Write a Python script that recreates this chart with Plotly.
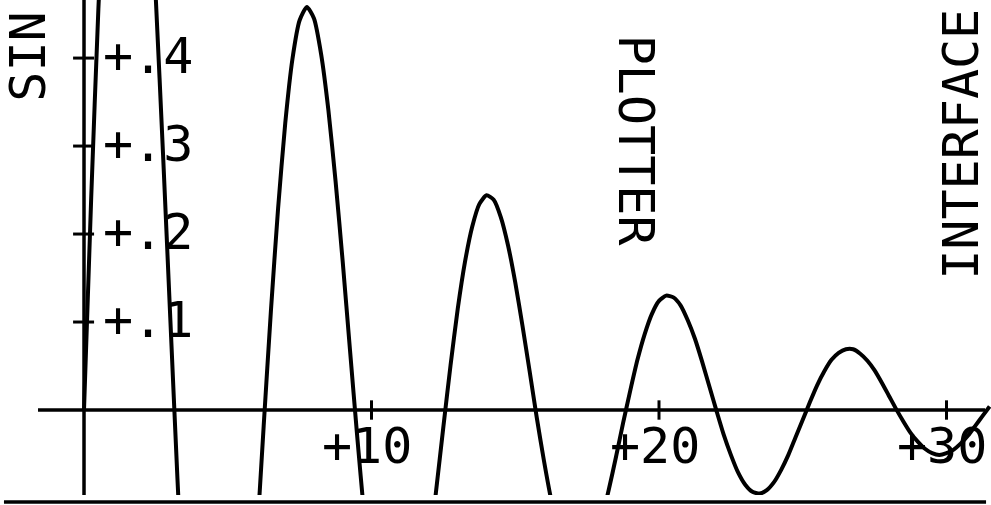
import plotly.graph_objects as go

# ---- data (damped sine) ----
x_vals = [0.0, 0.25, 0.5, 0.75, 1.0, 1.25, 1.5, 1.75, 2.0, 2.25,
          2.5, 2.75, 3.0, 3.25, 3.5, 3.75, 4.0, 4.25, 4.5, 4.75,
          5.0, 5.25, 5.5, 5.75, 6.0, 6.25, 6.5, 6.75, 7.0, 7.25,
          7.5, 7.75, 8.0, 8.25, 8.5, 8.75, 9.0, 9.25, 9.5, 9.75,
          10.0, 10.25, 10.5, 10.75, 11.0, 11.25, 11.5, 11.75, 12.0, 12.25,
          12.5, 12.75, 13.0, 13.25, 13.5, 13.75, 14.0, 14.25, 14.5, 14.75,
          15.0, 15.25, 15.5, 15.75, 16.0, 16.25, 16.5, 16.75, 17.0, 17.25,
          17.5, 17.75, 18.0, 18.25, 18.5, 18.75, 19.0, 19.25, 19.5, 19.75,
          20.0, 20.25, 20.5, 20.75, 21.0, 21.25, 21.5, 21.75, 22.0, 22.25,
          22.5, 22.75, 23.0, 23.25, 23.5, 23.75, 24.0, 24.25, 24.5, 24.75,
          25.0, 25.25, 25.5, 25.75, 26.0, 26.25, 26.5, 26.75, 27.0, 27.25,
          27.5, 27.75, 28.0, 28.25, 28.5, 28.75, 29.0, 29.25, 29.5, 29.75,
          30.0, 30.25, 30.5, 30.75, 31.0, 31.25, 31.5]
sin_vals = [0.0, 0.241, 0.456, 0.632, 0.761, 0.837, 0.859, 0.826, 0.744, 0.621,
            0.466, 0.290, 0.105, -0.078, -0.247, -0.393, -0.507, -0.585, -0.623, -0.621,
            -0.582, -0.508, -0.407, -0.286, -0.153, -0.018, 0.112, 0.229, 0.326, 0.399,
            0.443, 0.458, 0.445, 0.404, 0.341, 0.260, 0.168, 0.069, -0.029, -0.121,
            -0.200, -0.264, -0.308, -0.331, -0.333, -0.314, -0.277, -0.225, -0.162, -0.091,
            -0.019, 0.051, 0.115, 0.168, 0.208, 0.234, 0.244, 0.239, 0.219, 0.187,
            0.145, 0.096, 0.044, -0.009, -0.058, -0.102, -0.137, -0.162, -0.176, -0.178,
            -0.170, -0.151, -0.124, -0.091, -0.054, -0.015, 0.022, 0.057, 0.086, 0.109,
            0.124, 0.130, 0.128, 0.119, 0.102, 0.081, 0.055, 0.027, -0.001, -0.028,
            -0.051, -0.071, -0.085, -0.093, -0.095, -0.091, -0.082, -0.068, -0.051, -0.031,
            -0.011, 0.009, 0.028, 0.044, 0.057, 0.065, 0.069, 0.069, 0.064, 0.056,
            0.045, 0.031, 0.016, 0.001, -0.013, -0.026, -0.036, -0.044, -0.049, -0.051,
            -0.049, -0.045, -0.038, -0.029, -0.018, -0.007, 0.004]

x_tick_values = [10, 20, 30]
x_tick_labels = ["+10", "+20", "+30"]
y_tick_values = [0.1, 0.2, 0.3, 0.4]
y_tick_labels = ["+.1", "+.2", "+.3", "+.4"]
title_texts = ["SIN", "PLOTTER", "INTERFACE"]

# ---- axis ranges (pixel calibration: 28.75 px / x-unit, 880 px / y-unit) ----
X_MIN, X_MAX = -2.922, 31.548
Y_MIN, Y_MAX = -0.0966, 0.466

INK = "black"
FONT = dict(family="DejaVu Sans Mono", size=50, color=INK)

fig = go.Figure()
fig.add_trace(go.Scatter(
    x=x_vals, y=sin_vals, mode="lines",
    line=dict(color=INK, width=4, shape="spline", smoothing=0.6),
    hoverinfo="skip", showlegend=False,
))

shapes = []
# horizontal axis
shapes.append(dict(type="line", xref="x", yref="y", x0=-1.6, x1=31.34, y0=0, y1=0,
                   line=dict(color=INK, width=3.5)))
# vertical axis
shapes.append(dict(type="line", xref="x", yref="y", x0=0, x1=0, y0=Y_MIN, y1=Y_MAX + 0.01,
                   line=dict(color=INK, width=3.5)))
# x ticks
for v in x_tick_values:
    shapes.append(dict(type="line", xref="x", yref="y", x0=v, x1=v, y0=-0.011, y1=0.011,
                       line=dict(color=INK, width=3)))
# y ticks
for v in y_tick_values:
    shapes.append(dict(type="line", xref="x", yref="y", x0=-0.38, x1=0.35, y0=v, y1=v,
                       line=dict(color=INK, width=3)))
# bottom border line (below plot window)
shapes.append(dict(type="line", xref="paper", yref="paper", x0=0.004, x1=0.995,
                   y0=-0.014, y1=-0.014, line=dict(color=INK, width=3.5)))

annotations = []
for v, t in zip(x_tick_values, x_tick_labels):
    annotations.append(dict(x=v - 0.14, y=-0.041, xref="x", yref="y", text=t,
                            showarrow=False, xanchor="center", yanchor="middle", font=FONT))
for v, t in zip(y_tick_values, y_tick_labels):
    annotations.append(dict(x=2.23, y=v + 0.002, xref="x", yref="y", text=t,
                            showarrow=False, xanchor="center", yanchor="middle", font=FONT))

title_pos = [(-1.93, 0.401, -90), (19.2, 0.306, 90), (30.52, 0.302, -90)]
for t, (tx, ty, ang) in zip(title_texts, title_pos):
    annotations.append(dict(x=tx, y=ty, xref="x", yref="y", text=t, textangle=ang,
                            showarrow=False, xanchor="center", yanchor="middle", font=FONT))

fig.update_layout(
    width=991, height=505,
    margin=dict(l=0, r=0, t=0, b=10, pad=0),
    paper_bgcolor="white", plot_bgcolor="white",
    xaxis=dict(range=[X_MIN, X_MAX], visible=False, showgrid=False, zeroline=False, fixedrange=True),
    yaxis=dict(range=[Y_MIN, Y_MAX], visible=False, showgrid=False, zeroline=False, fixedrange=True),
    shapes=shapes, annotations=annotations, showlegend=False,
)

fig.write_html("out.html", config={"displayModeBar": False},
               post_script="document.body.style.margin='0';document.body.style.overflow='hidden';")
